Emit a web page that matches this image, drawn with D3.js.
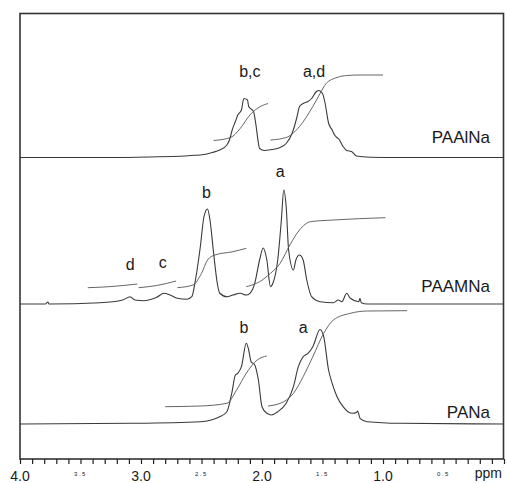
<!DOCTYPE html>
<html><head><meta charset="utf-8">
<script src="https://cdn.jsdelivr.net/npm/d3@7"></script>
<style>body{margin:0;background:#fff}svg{display:block}text{font-family:"Liberation Sans",Arial,sans-serif;fill:#1a1a1a}</style>
</head><body><svg id="c" width="507" height="483"></svg>
<script>
// ---------- data (ppm, intensity in arbitrary units above baseline) ----------
const sampleNames = ["PAAlNa", "PAAMNa", "PANa"];

const paalnaPpm = [4.00,3.34,2.93,2.51,2.41,2.35,2.29,2.26,2.25,2.22,2.20,2.17,2.15,2.12,2.11,2.07,2.05,2.03,2.02,1.98,1.92,1.85,1.80,1.75,1.71,1.69,1.66,1.62,1.59,1.55,1.53,1.50,1.48,1.45,1.42,1.40,1.36,1.33,1.30,1.26,1.22,1.11,0.86,0.00];
const paalnaInt = [0,0,0.5,2.5,5,7.5,12.5,21,26,36,42.5,47.5,59,57.5,51,46,32.5,14.5,9,7,8,10,14,24.5,41,51,54,56,59,66,67,64,55,34.5,27.5,22.5,17.5,11,7,6,1.5,0.3,0,0];
const paalnaIntegrals = [
  {ppm:[2.40,2.26,2.18,2.10,2.04,1.95], val:[17,20,29,42.5,49,54]},
  {ppm:[1.93,1.80,1.69,1.58,1.52,1.47,1.38,1.30,1.19,1.00], val:[17.5,20,31,51,64,74,80,82,82.5,82.5]}
];

const paamnaPpm = [4.00,3.79,3.77,3.76,3.34,3.15,3.09,3.05,2.98,2.87,2.81,2.76,2.70,2.62,2.58,2.55,2.51,2.48,2.45,2.43,2.40,2.37,2.35,2.29,2.24,2.18,2.13,2.10,2.06,2.02,1.99,1.96,1.93,1.91,1.87,1.84,1.82,1.80,1.78,1.74,1.72,1.69,1.66,1.63,1.59,1.52,1.41,1.37,1.34,1.30,1.27,1.20,1.19,1.18,1.13,0.00];
const paamnaInt = [0,0,2,0,1.3,4,7.3,4,3.3,6.7,10.7,9,5.7,4.7,7.3,24,57,87,95,84,51,21,11,7.3,9,10.7,9,10.7,20.7,44,56,44,17.3,20.7,44,84,114,97,54,34,44,49,44,24,7.3,2.3,1.3,4,2.3,10.7,5.7,2.3,5.7,1.3,0,0];
const paamnaIntegrals = [
  {ppm:[3.44,3.24,3.03], val:[16.3,17.5,20]},
  {ppm:[3.02,2.87,2.71], val:[16.3,18.5,23]},
  {ppm:[2.70,2.57,2.50,2.45,2.39,2.24,2.13], val:[16.3,19,30.7,44,49,52.3,55.7]},
  {ppm:[2.13,2.02,1.93,1.85,1.77,1.69,1.60,1.41,0.98], val:[17.3,22.3,30.7,40.7,59,74,82.3,84,86.3]}
];

const panaPpm = [4.00,3.07,2.51,2.35,2.29,2.25,2.22,2.20,2.17,2.13,2.11,2.09,2.06,2.03,2.00,1.96,1.92,1.87,1.80,1.74,1.70,1.66,1.62,1.58,1.52,1.49,1.45,1.42,1.38,1.33,1.29,1.25,1.22,1.21,1.19,1.13,0.86,0.00];
const panaInt = [0,0.7,2.3,7.3,12.3,30.7,49,50.7,57.3,80.7,74,62.3,59,44,17.3,10.7,9,12.3,20.7,37.3,57.3,67.3,70.7,77.3,94.5,87.3,54,40.7,27.3,17.3,12.3,10.7,11.5,13,5.7,2.3,0.7,0];
const panaIntegrals = [
  {ppm:[2.80,2.51,2.29,2.21,2.13,2.04,2.00,1.96], val:[17.3,18,20.7,34,50.7,64,66.7,68]},
  {ppm:[1.95,1.82,1.74,1.66,1.58,1.49,1.41,1.27,1.13,0.80], val:[18,22.3,30.7,47.3,67.3,90.7,104,110.7,113,113.3]}
];

const peakLabels = [
  [{t:"b,c", ppm:2.10, v:81}, {t:"a,d", ppm:1.57, v:81}],
  [{t:"d", ppm:3.09, v:34}, {t:"c", ppm:2.82, v:36}, {t:"b", ppm:2.46, v:106}, {t:"a", ppm:1.85, v:127}],
  [{t:"b", ppm:2.15, v:91}, {t:"a", ppm:1.66, v:91}]
];

const majorTicks = [4.0, 3.0, 2.0, 1.0];
const minorLabels = [3.5, 2.5, 1.5, 0.5];

// ---------- layout ----------
const L = 20, R = 503.5, T = 13.5, B = 459;
const baselines = [157.5, 304, 424];
const svg = d3.select("#c");

const x = d3.scaleLinear().domain([4, 0]).range([L, 504]);

const spectra = [
  {ppm: paalnaPpm, val: paalnaInt, ints: paalnaIntegrals},
  {ppm: paamnaPpm, val: paamnaInt, ints: paamnaIntegrals},
  {ppm: panaPpm, val: panaInt, ints: panaIntegrals}
];

spectra.forEach((s, i) => {
  const y = d3.scaleLinear().domain([0, 150]).range([baselines[i], baselines[i] - 150]);
  const line = d3.line().x(d => x(d[0])).y(d => y(d[1])).curve(d3.curveMonotoneX);
  const pts = s.ppm.map((p, k) => [p, s.val[k]]);
  svg.append("path").attr("d", line(pts)).attr("fill", "none")
    .attr("stroke", "#3a3a3a").attr("stroke-width", 1.1);
  s.ints.forEach(it => {
    const ip = it.ppm.map((p, k) => [p, it.val[k]]);
    svg.append("path").attr("d", line(ip)).attr("fill", "none")
      .attr("stroke", "#555").attr("stroke-width", 0.9);
  });
  peakLabels[i].forEach(lb => {
    svg.append("text").attr("x", x(lb.ppm)).attr("y", y(lb.v))
      .attr("text-anchor", "middle").attr("font-size", 16).text(lb.t);
  });
});

// sample names
const nameY = [143, 291.5, 418];
sampleNames.forEach((n, i) => {
  svg.append("text").attr("x", 490).attr("y", nameY[i]).attr("text-anchor", "end")
    .attr("font-size", 17).text(n);
});

// frame
svg.append("rect").attr("x", L).attr("y", T).attr("width", R - L).attr("height", B - T)
  .attr("fill", "none").attr("stroke", "#333").attr("stroke-width", 1.6);

// axis ticks
const tickVals = d3.range(0, 41).map(d => d / 10);
const axis = d3.axisBottom(x).tickValues(tickVals).tickSize(5).tickFormat("");
const ag = svg.append("g").attr("transform", `translate(0,${B})`).call(axis);
ag.select(".domain").remove();
ag.selectAll("line").attr("stroke", "#222").attr("stroke-width", 1.2);

majorTicks.forEach(v => {
  svg.append("text").attr("x", x(v)).attr("y", 481).attr("text-anchor", "middle")
    .attr("font-size", 14).text(d3.format(".1f")(v));
});
minorLabels.forEach(v => {
  svg.append("text").attr("x", x(v)).attr("y", 475.5).attr("text-anchor", "middle")
    .attr("font-size", 6).attr("letter-spacing", 1.5).text(d3.format(".1f")(v));
});
svg.append("text").attr("x", 502).attr("y", 478).attr("text-anchor", "end")
  .attr("font-size", 14).text("ppm");
</script></body></html>
